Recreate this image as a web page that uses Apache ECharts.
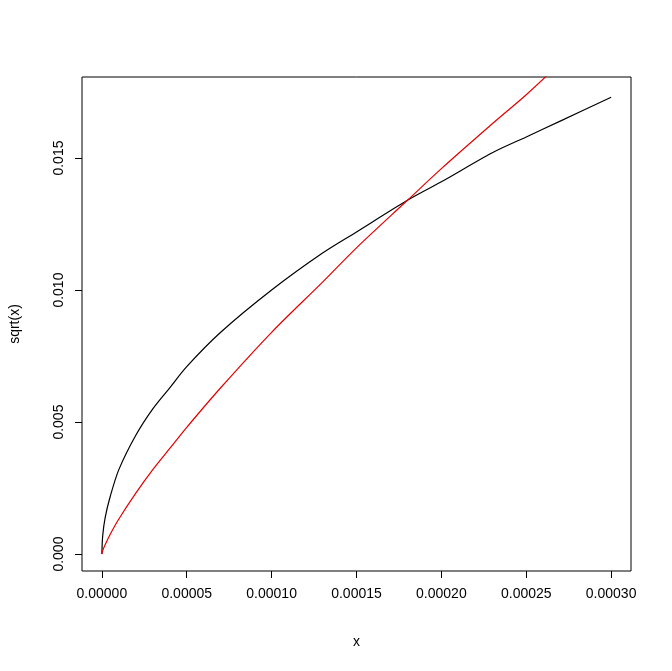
<!DOCTYPE html>
<html>
<head>
<meta charset="utf-8">
<script src="https://cdn.jsdelivr.net/npm/echarts@6/dist/echarts.min.js"></script>
<style>body{margin:0;background:#fff}#main{width:672px;height:671px}</style>
</head>
<body>
<div id="main"></div>
<script>
// values
var xs = [0, 0.0000005, 0.000002, 0.000005, 0.00001, 0.00002, 0.00003, 0.00004, 0.00005, 0.00007, 0.0001, 0.00013, 0.00015, 0.00018, 0.0002, 0.00023, 0.00025, 0.00027, 0.0003];
var blackY = [0, 0.0007, 0.0014, 0.0022, 0.0032, 0.0045, 0.0055, 0.0063, 0.0071, 0.0084, 0.0100, 0.0114, 0.0122, 0.0134, 0.0141, 0.0152, 0.0158, 0.0164, 0.0173];
var redY = [0, 0.00013, 0.00036, 0.00076, 0.00133, 0.00231, 0.0032, 0.0040, 0.0048, 0.0063, 0.0084, 0.0103, 0.0116, 0.0134, 0.0146, 0.0163, 0.0174, 0.0186, null];
var xTicks = [0, 0.00005, 0.0001, 0.00015, 0.0002, 0.00025, 0.0003];
var yTicks = [0, 0.005, 0.010, 0.015];

function pairs(ys){
	var out = [];
	for(var i=0;i<xs.length;i++){ if(ys[i]!==null) out.push([xs[i], ys[i]]) }
	return out;
}
var font = 'Liberation Sans, Arial, sans-serif';
var chart = echarts.init(document.getElementById('main'));
chart.setOption({
	animation: false,
	grid: {left: 79, right: 41, top: 77, bottom: 100, show: true, borderColor: '#000', borderWidth: 1},
	xAxis: {
		type: 'value', min: -0.0000117, max: 0.0003117, position: 'bottom', offset: 0,
		name: 'x', nameLocation: 'middle', nameGap: 64,
		nameTextStyle: {color: '#000', fontSize: 14, fontFamily: font},
		axisLine: {show: false, onZero: false}, splitLine: {show: false},
		axisTick: {show: true, length: 7, customValues: xTicks, lineStyle: {color: '#000'}},
		axisLabel: {customValues: xTicks, color: '#000', fontSize: 14, fontFamily: font, margin: 16,
			formatter: function(v){ return v.toFixed(5) }}
	},
	yAxis: {
		type: 'value', min: -0.00064, max: 0.01807, position: 'left', offset: 0,
		name: 'sqrt(x)', nameLocation: 'middle', nameGap: 60,
		nameTextStyle: {color: '#000', fontSize: 14, fontFamily: font},
		axisLine: {show: false, onZero: false}, splitLine: {show: false},
		axisTick: {show: true, length: 7, customValues: yTicks, lineStyle: {color: '#000'}},
		axisLabel: {customValues: yTicks, rotate: 90, color: '#000', fontSize: 14, fontFamily: font, margin: 16,
			formatter: function(v){ return v.toFixed(3) }}
	},
	series: [
		{type: 'line', data: pairs(blackY), smooth: 0.3, showSymbol: false, clip: true, lineStyle: {color: '#000', width: 1.2}},
		{type: 'line', data: pairs(redY), smooth: 0.3, showSymbol: false, clip: true, lineStyle: {color: '#e00000', width: 1.2}}
	]
});
</script>
</body>
</html>
